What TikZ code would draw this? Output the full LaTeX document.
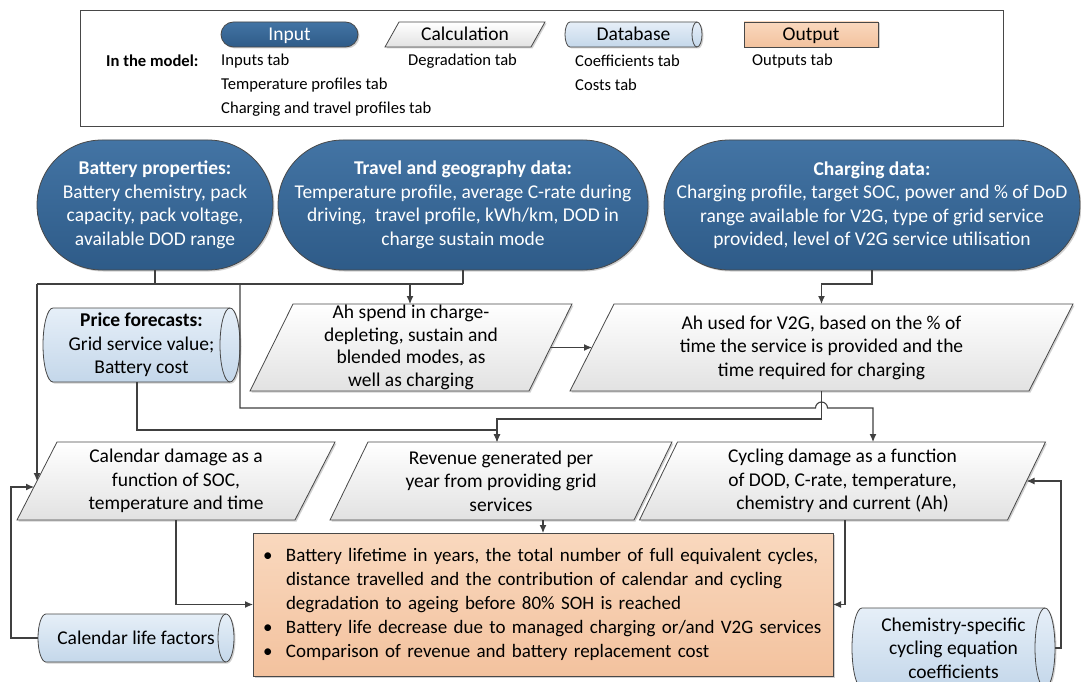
\documentclass[tikz,border=0pt]{standalone}
\usepackage{fontspec}
\setmainfont{Carlito}
\usetikzlibrary{arrows.meta,shadows,backgrounds,calc}
\definecolor{inTop}{RGB}{67,116,164}
\definecolor{inBot}{RGB}{46,91,136}
\definecolor{dbTop}{RGB}{230,239,248}
\definecolor{dbBot}{RGB}{196,215,234}
\definecolor{calcBot}{RGB}{226,226,226}
\definecolor{outTop}{RGB}{249,216,190}
\definecolor{outBot}{RGB}{243,194,158}
\definecolor{linec}{RGB}{64,64,64}
\definecolor{edgec}{RGB}{72,72,72}
\newcommand\FntBig{\fontsize{19.5}{23.5}\selectfont}
\newcommand\FntTight{\fontsize{19.5}{22.8}\selectfont}
\newcommand\FntOut{\fontsize{19}{24}\selectfont}
\newcommand\FntSmall{\fontsize{16.6}{24}\selectfont}
\newcommand\paraShape[2]{\path[calcsh] ([xshift=#2]#1.north west) -- ([xshift=#2]#1.north east) -- ([xshift=-#2]#1.south east) -- ([xshift=-#2]#1.south west) -- cycle;}
\newcommand\dbShape[3]{\path[dbsh] ([xshift=#2]#1.north west) -- ([xshift=-#2]#1.north east) arc[start angle=90,end angle=-90,x radius=#2,y radius=#3] -- ([xshift=#2]#1.south west) arc[start angle=270,end angle=90,x radius=#2,y radius=#3] -- cycle;
\draw[dbln] ([xshift=-#2]#1.north east) arc[start angle=90,end angle=270,x radius=#2,y radius=#3];}
\begin{document}
\begin{tikzpicture}[x=1pt,y=-1pt,
  lin/.style={draw=linec,line width=1.1pt},
  arr/.style={lin,-{Latex[length=8pt,width=7pt]}},
  shd/.style={drop shadow={shadow xshift=1.5pt,shadow yshift=-1.5pt,opacity=0.3,fill=black!60}},
  txt/.style={font=\FntBig,align=center,inner sep=0pt,outer sep=0pt},
  lgbox/.style={txt,text height=16pt,text depth=3pt,minimum height=25pt},
  inpill/.style={txt,text=white,top color=inTop,bottom color=inBot,draw=edgec,line width=0.8pt,shd},
  calcsh/.style={top color=white,bottom color=calcBot,draw=edgec,line width=0.8pt,shd},
  dbsh/.style={top color=dbTop,bottom color=dbBot,draw=edgec,line width=0.8pt,shd},
  dbln/.style={draw=edgec,line width=0.8pt},
  outbox/.style={font=\FntOut,align=left,inner ysep=0pt,inner xsep=10pt,outer sep=0pt,top color=outTop,bottom color=outBot,draw=edgec,line width=0.8pt,shd},
  lgtxt/.style={font=\FntSmall,anchor=west,inner sep=0pt},
]
\useasboundingbox (0,0) rectangle (1081,682);

% ---------- legend ----------
\node[draw=edgec,line width=0.8pt,minimum width=923pt,minimum height=116pt,inner sep=0pt,outer sep=0pt] (legend) at (541.5,68) {};
\node[inpill,lgbox,rounded corners=12.5pt,minimum width=137pt] (lgIn) at (289.5,34.5) {Input};
\node[lgbox,minimum width=146pt] (lgCalc) at (465,34.5) {Calculation};
\node[lgbox,minimum width=137pt] (lgDb) at (633.5,34.5) {Database};
\node[lgbox,minimum width=134pt,top color=outTop,bottom color=outBot,draw=edgec,line width=0.8pt,shd] (lgOut) at (811,34.5) {Output};
\node[lgtxt,font=\FntSmall\bfseries] (lgModel) at (106,61) {In the model:};
\node[lgtxt] (lgT1) at (221,61) {Inputs tab};
\node[lgtxt] (lgT2) at (221,85) {Temperature profiles tab};
\node[lgtxt] (lgT3) at (221,109) {Charging and travel profiles tab};
\node[lgtxt] (lgT4) at (408,61) {Degradation tab};
\node[lgtxt] (lgT5) at (575,61) {Coefficients tab};
\node[lgtxt] (lgT6) at (575,85) {Costs tab};
\node[lgtxt] (lgT7) at (752,61) {Outputs tab};

% ---------- inputs ----------
\node[inpill,rounded corners=65pt,minimum width=236pt,minimum height=130pt] (bp) at (155,205)
  {\textbf{Battery properties:}\\Battery chemistry, pack\\capacity, pack voltage,\\available DOD range};
\node[inpill,rounded corners=65pt,minimum width=370pt,minimum height=130pt] (tg) at (463,205)
  {\textbf{Travel and geography data:}\\Temperature profile, average C-rate during\\driving,~ travel profile, kWh/km, DOD in\\charge sustain mode};
\node[inpill,rounded corners=65pt,minimum width=416pt,minimum height=130pt] (cd) at (872,205)
  {\textbf{Charging data:}\\Charging profile, target SOC, power and \% of DoD\\range available for V2G, type of grid service\\provided, level of V2G service utilisation};

% ---------- databases ----------
\node[txt,minimum width=197pt,minimum height=74pt] (pf) at (141.5,345)
  {\textbf{Price forecasts:}\\Grid service value;\\Battery cost};
\node[txt,minimum width=196pt,minimum height=48pt] (clf) at (136,638) {Calendar life factors};
\node[txt,minimum width=203pt,minimum height=80pt] (chem) at (953.5,648)
  {Chemistry-specific\\cycling equation\\coefficients};

% ---------- calculations ----------
\node[txt,font=\FntTight,minimum width=279pt,minimum height=87pt] (ahs) at (411,347.5)
  {Ah spend in charge-\\depleting, sustain and\\blended modes, as\\well as charging};
\node[txt,minimum width=459pt,minimum height=87pt] (ahv) at (821.5,347.5)
  {Ah used for V2G, based on the \% of\\time the service is provided and the\\time required for charging};
\node[txt,minimum width=278pt,minimum height=78pt] (cal) at (176,481)
  {Calendar damage as a\\function of SOC,\\temperature and time};
\node[txt,minimum width=304pt,minimum height=78pt] (rev) at (501,481)
  {Revenue generated per\\year from providing grid\\services};
\node[txt,minimum width=368pt,minimum height=78pt] (cyc) at (842.5,481)
  {Cycling damage as a function\\of DOD, C-rate, temperature,\\chemistry and current (Ah)};

% ---------- output ----------
\node[outbox,text width=560pt,minimum height=143pt] (out) at (543,604.5)
  {\makebox[23pt][l]{\textbullet}Battery lifetime in years, the total number of full equivalent cycles,\\
   \hspace*{23pt}distance travelled and the contribution of calendar and cycling\\
   \hspace*{23pt}degradation to ageing before 80\% SOH is reached\\
   \makebox[23pt][l]{\textbullet}Battery life decrease due to managed charging or/and V2G services\\
   \makebox[23pt][l]{\textbullet}Comparison of revenue and battery replacement cost};

% ---------- shapes behind text ----------
\begin{scope}[on background layer]
  \fill[white] (0,0) rectangle (1081,682);
  \paraShape{lgCalc}{7pt}
  \dbShape{lgDb}{5pt}{12.5pt}
  \dbShape{pf}{10pt}{37pt}
  \dbShape{clf}{8pt}{24pt}
  \dbShape{chem}{10pt}{40pt}
  \paraShape{ahs}{21.5pt}
  \paraShape{ahv}{22pt}
  \paraShape{cal}{20pt}
  \paraShape{rev}{19pt}
  \paraShape{cyc}{19pt}
\end{scope}

% ---------- connectors ----------
\coordinate (hL) at (37,284);
\coordinate (hR) at (463,284);
\coordinate (hA) at (410,284);
\coordinate (hM) at (240,284);
\coordinate (cT) at (873,408);
\coordinate (k1) at (497,419);
\coordinate (k2) at (497,430);
\draw[lin] (bp.south) -- (bp.south |- hL);
\draw[lin] (tg.south) -- (tg.south |- hR);
\draw[lin] (hL) -- (hR);
\draw[arr] (hA) -- (hA |- ahs.north);
\draw[arr] (hL) -- (hL |- cal.west);
\draw[arr] (hM) -- (240,408) -- (815.5,408) arc[start angle=180,end angle=0,radius=6pt] -- (cT) -- (cT |- cyc.north);
\draw[arr] (cd.south) -- ++(0,14) -| (ahv.north);
\draw[arr] (ahs.east) -- (ahs.east -| ahv.west);
\draw[arr] (ahv.south) |- (k1) -- (k1 |- rev.north);
\draw[arr] ([xshift=-4.5pt]pf.south) |- (k2) -- (k2 |- rev.north);
\draw[arr] (cal.south) |- (out.west);
\draw[arr] (rev.south -| out.north) -- (out.north);
\draw[arr] ([xshift=2.5pt]cyc.south) |- (out.east);
\draw[arr] (chem.east) -- ++(6,0) |- (cyc.east);
\draw[arr] (clf.west) -- ++(-27,0) |- ([xshift=-3pt,yshift=-6pt]cal.west);
\end{tikzpicture}
\end{document}
